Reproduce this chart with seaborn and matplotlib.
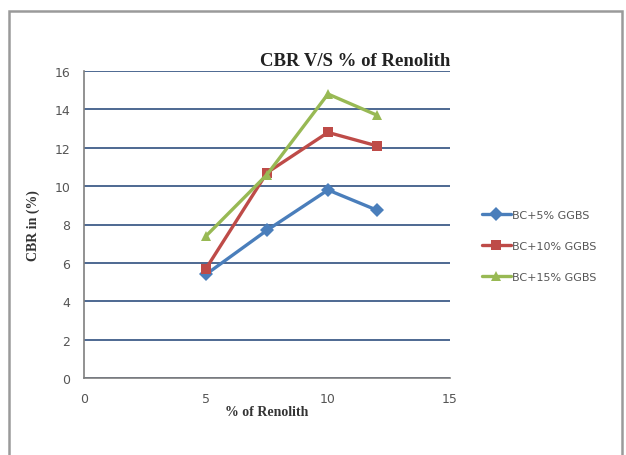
"""
CBR vs % of Renolith line chart.
"""

import matplotlib
matplotlib.use("Agg")
import matplotlib.pyplot as plt
from matplotlib.patches import Rectangle
import seaborn as sns
import pandas as pd

# ── Data ──────────────────────────────────────────────────────────
renolith = [5, 7.5, 10, 12]
bc_5 = [5.4, 7.7, 9.8, 8.75]
bc_10 = [5.7, 10.7, 12.8, 12.1]
bc_15 = [7.4, 10.6, 14.8, 13.7]
series_names = ["BC+5% GGBS", "BC+10% GGBS", "BC+15% GGBS"]

df = pd.DataFrame({
    "renolith": renolith * 3,
    "cbr": bc_5 + bc_10 + bc_15,
    "mix": [n for n in series_names for _ in renolith],
})

# ── Style ─────────────────────────────────────────────────────────
sns.set_theme(style="white")
PALETTE = dict(zip(series_names, ["#4A7EBB", "#BE4B48", "#98B954"]))
MARKERS = dict(zip(series_names, ["D", "s", "^"]))
SERIF = ["Liberation Serif", "DejaVu Serif"]
TICK_GRAY = "#555555"

fig = plt.figure(figsize=(6.26, 4.56), dpi=100)
fig.patches.append(Rectangle((0.014, -0.05), 0.98, 1.024, transform=fig.transFigure,
                             fill=False, edgecolor="#9a9a9a", linewidth=1.8))
ax = fig.add_axes([84 / 626, 1 - 379 / 456, 366 / 626, 307 / 456])

sns.lineplot(data=df, x="renolith", y="cbr", hue="mix", style="mix",
             palette=PALETTE, markers=MARKERS, dashes=False, markersize=7.5,
             markeredgewidth=0, linewidth=2.4, ax=ax)

ax.set_xlim(0, 15)
ax.set_ylim(0, 16)
ax.set_xticks([0, 5, 10, 15])
ax.set_yticks(range(0, 17, 2))
ax.yaxis.grid(True, color="#2F4F7F", linewidth=1.2)
ax.set_axisbelow(True)
for side in ["top", "right"]:
    ax.spines[side].set_visible(False)
for side in ["left", "bottom"]:
    ax.spines[side].set_color("#7f7f7f")
    ax.spines[side].set_linewidth(1.2)
ax.tick_params(axis="both", colors=TICK_GRAY, labelsize=9, length=0, pad=10)

ax.set_xlabel("% of Renolith", fontfamily=SERIF, fontweight="bold",
              fontsize=10, color="#333333", labelpad=0)
ax.set_ylabel("CBR in (%)", fontfamily=SERIF, fontweight="bold",
              fontsize=10, color="#333333", labelpad=10)
ax.set_title("CBR V/S % of Renolith", fontfamily=SERIF, fontweight="bold",
             fontsize=13.5, loc="right", pad=4, color="#222222")

handles, labels = ax.get_legend_handles_labels()
ax.legend(handles, labels, loc="center left", bbox_to_anchor=(1.06, 0.43),
          frameon=False, fontsize=8, labelcolor=TICK_GRAY,
          handlelength=2.6, handletextpad=0.1, labelspacing=1.9)

fig.savefig("out.png", dpi=100)
